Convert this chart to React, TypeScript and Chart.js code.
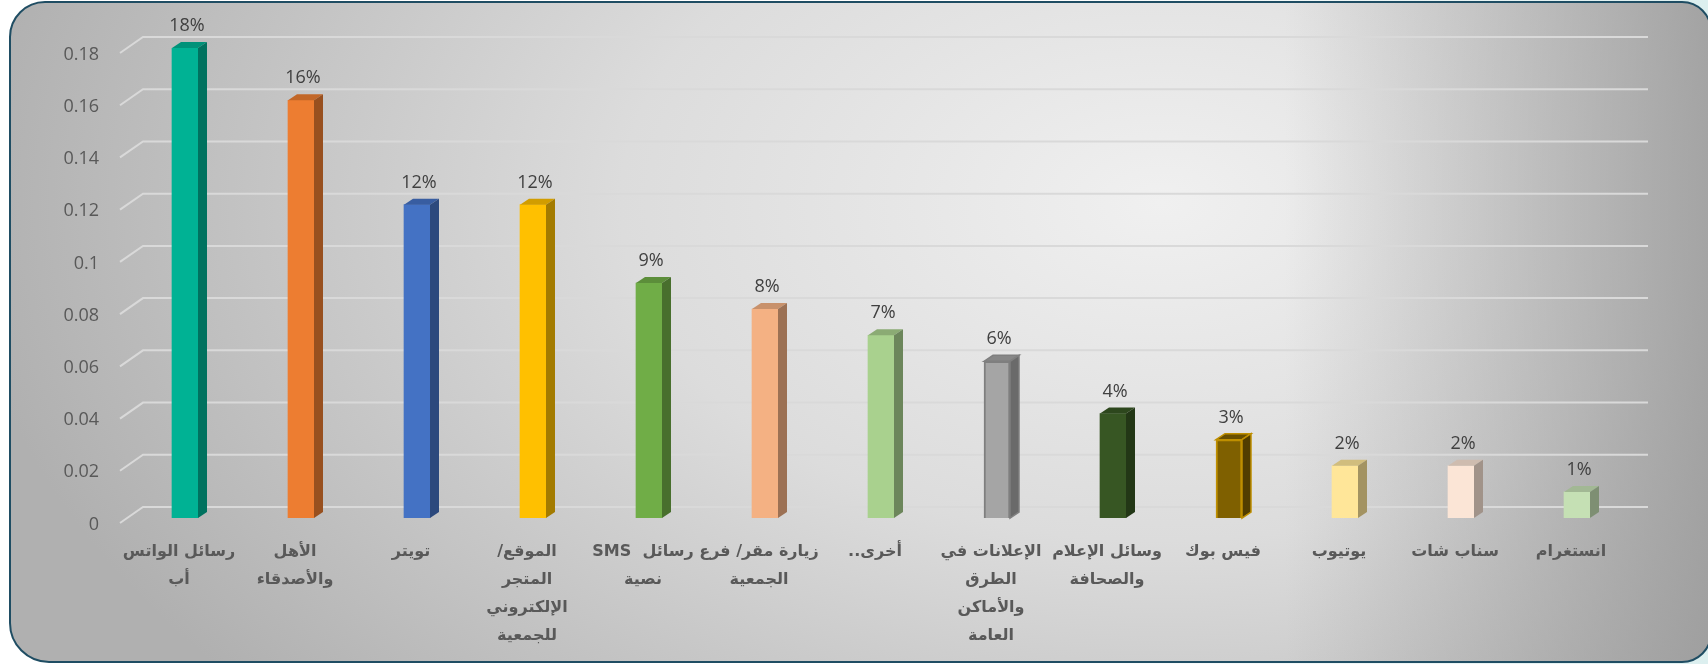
import React, { useEffect, useRef } from "react";
import { Chart, registerables } from "chart.js";

Chart.register(...registerables);

const categories: (string | string[])[] = [
  ["رسائل الواتس", "أب"],
  ["الأهل", "والأصدقاء"],
  "تويتر",
  ["الموقع/", "المتجر", "الإلكتروني", "للجمعية"],
  ["رسائل  SMS", "نصية"],
  ["زيارة مقر/ فرع", "الجمعية"],
  "أخرى..",
  ["الإعلانات في", "الطرق", "والأماكن", "العامة"],
  ["وسائل الإعلام", "والصحافة"],
  "فيس بوك",
  "يوتيوب",
  "سناب شات",
  "انستغرام",
];

const values = [0.18, 0.16, 0.12, 0.12, 0.09, 0.08, 0.07, 0.06, 0.04, 0.03, 0.02, 0.02, 0.01];
const valueLabels = ["18%", "16%", "12%", "12%", "9%", "8%", "7%", "6%", "4%", "3%", "2%", "2%", "1%"];

const yTicks = [0, 0.02, 0.04, 0.06, 0.08, 0.1, 0.12, 0.14, 0.16, 0.18];
const yTickLabels = ["0", "0.02", "0.04", "0.06", "0.08", "0.1", "0.12", "0.14", "0.16", "0.18"];

const frontColors = [
  "#00b294", "#ed7d31", "#4472c4", "#ffc000", "#70ad47", "#f4b183", "#a9d18e",
  "#a5a5a5", "#375623", "#7f6000", "#ffe699", "#fbe5d6", "#c5e0b4",
];
const borderColors = [
  "#00b294", "#ed7d31", "#4472c4", "#ffc000", "#70ad47", "#f4b183", "#a9d18e",
  "#7f7f7f", "#375623", "#bf8f00", "#ffe699", "#fbe5d6", "#c5e0b4",
];
const borderWidths = [0, 0, 0, 0, 0, 0, 0, 2, 0, 2, 0, 0, 0];

function shade(hex: string, f: number): string {
  const n = parseInt(hex.slice(1), 16);
  const r = Math.round(((n >> 16) & 255) * f);
  const g = Math.round(((n >> 8) & 255) * f);
  const b = Math.round((n & 255) * f);
  return `rgb(${r},${g},${b})`;
}

const DX = 9;
const DY = 6;

const gridPlugin = {
  id: "grid3d",
  beforeDatasetsDraw(chart: any) {
    const ctx = chart.ctx;
    const ys = chart.scales.y;
    const ca = chart.chartArea;
    ctx.save();
    ctx.strokeStyle = "#d9d9d9";
    ctx.lineWidth = 2;
    yTicks.forEach((v) => {
      const py = ys.getPixelForValue(v);
      ctx.beginPath();
      ctx.moveTo(ca.left - 7, py + 5);
      ctx.lineTo(ca.left + 16, py - 11);
      ctx.lineTo(ca.right + 13, py - 11);
      ctx.stroke();
    });
    ctx.fillStyle = "#595959";
    ctx.font = '18px "Open Sans"';
    ctx.textAlign = "right";
    ctx.textBaseline = "middle";
    yTicks.forEach((v, i) => {
      const py = ys.getPixelForValue(v);
      ctx.fillText(yTickLabels[i], ca.left - 28, py + 6.5);
    });
    ctx.restore();
  },
  afterDatasetsDraw(chart: any) {
    const ctx = chart.ctx;
    const meta = chart.getDatasetMeta(0);
    ctx.save();
    meta.data.forEach((bar: any, i: number) => {
      const { x, y, base, width } = bar.getProps(["x", "y", "base", "width"], true);
      const L = x - width / 2;
      const R = x + width / 2;
      const col = frontColors[i];
      // top face
      ctx.beginPath();
      ctx.moveTo(L, y);
      ctx.lineTo(L + DX, y - DY);
      ctx.lineTo(R + DX, y - DY);
      ctx.lineTo(R, y);
      ctx.closePath();
      ctx.fillStyle = shade(col, 0.82);
      ctx.fill();
      if (borderWidths[i]) {
        ctx.strokeStyle = borderColors[i];
        ctx.lineWidth = 1.5;
        ctx.stroke();
      }
      // side face
      ctx.beginPath();
      ctx.moveTo(R, y);
      ctx.lineTo(R + DX, y - DY);
      ctx.lineTo(R + DX, base - DY);
      ctx.lineTo(R, base);
      ctx.closePath();
      ctx.fillStyle = shade(col, 0.64);
      ctx.fill();
      if (borderWidths[i]) {
        ctx.strokeStyle = borderColors[i];
        ctx.lineWidth = 1.5;
        ctx.stroke();
      }
      // value label
      ctx.fillStyle = "#404040";
      ctx.font = '18px "Open Sans"';
      ctx.textAlign = "center";
      ctx.textBaseline = "middle";
      ctx.fillText(valueLabels[i], x + 2, y - 22);
    });
    ctx.restore();
  },
};

export default function App() {
  const canvasRef = useRef<HTMLCanvasElement | null>(null);

  useEffect(() => {
    const canvas = canvasRef.current;
    if (!canvas) return;
    const chart = new Chart(canvas, {
      type: "bar",
      data: {
        labels: categories,
        datasets: [
          {
            data: values,
            backgroundColor: frontColors,
            borderColor: borderColors,
            borderWidth: borderWidths,
            barThickness: 26,
          },
        ],
      },
      options: {
        responsive: false,
        animation: false,
        devicePixelRatio: 1,
        layout: { padding: { left: 127, right: 73, top: 48, bottom: 0 } },
        plugins: {
          legend: { display: false },
          tooltip: { enabled: false },
        },
        scales: {
          x: {
            display: true,
            grid: { display: false, drawTicks: false },
            border: { display: false },
            ticks: {
              autoSkip: false,
              maxRotation: 0,
              minRotation: 0,
              padding: 20,
              labelOffset: -6,
              color: "#595959",
              font: { family: '"DejaVu Sans"', size: 16, weight: "bold", lineHeight: "28px" },
            },
            afterFit: (axis: any) => {
              axis.height = 146;
            },
          },
          y: {
            display: false,
            min: 0,
            max: 0.18,
          },
        },
      },
      plugins: [gridPlugin],
    });
    return () => chart.destroy();
  }, []);

  return (
    <div>
      <div
        style={{
          position: "fixed",
          left: 0,
          top: 0,
          width: 1708,
          height: 664,
          background: "linear-gradient(to right, #ffffff 0%, #ffffff 60%, #dcefef 100%)",
        }}
      />
      <div
        style={{
          position: "fixed",
          left: 9,
          top: 1,
          width: 1703,
          height: 662,
          boxSizing: "border-box",
          border: "2px solid #1f4d63",
          borderRadius: "36px 30px 30px 40px",
          overflow: "hidden",
          background:
            "linear-gradient(to right, rgba(150,150,150,0) 75%, rgba(150,150,150,0.8) 100%), radial-gradient(ellipse 1200px 750px at 1150px 200px, #f0f0f0 0%, #dcdcdc 45%, #b0b0b0 100%)",
        }}
      >
        <canvas
          ref={canvasRef}
          dir="rtl"
          width={1708}
          height={664}
          style={{ position: "absolute", left: -11, top: -3, width: 1708, height: 664, display: "block" }}
        />
      </div>
    </div>
  );
}
